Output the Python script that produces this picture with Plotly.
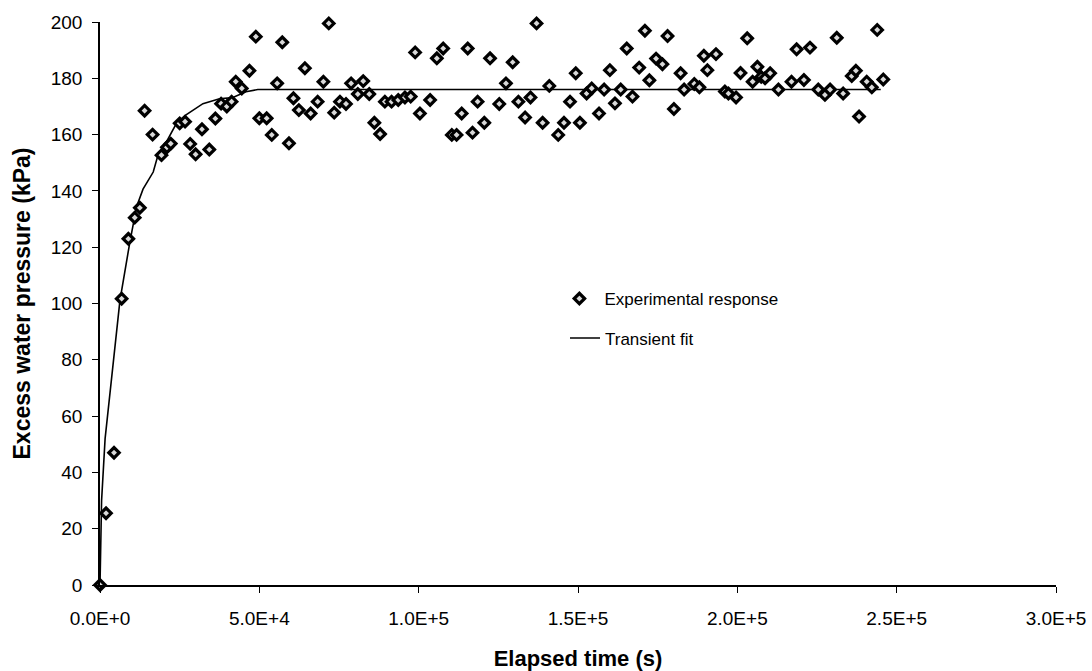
import plotly.graph_objects as go

# Experimental response (time in s, excess water pressure in kPa)
exp_t = [0, 1.9e3, 4.4e3, 6.8e3, 8.9e3, 10.9e3, 12.5e3, 14.0e3, 16.5e3, 19.3e3,
         21.0e3, 22.2e3, 25.0e3, 26.7e3, 28.3e3, 30.0e3, 32.0e3, 34.3e3, 36.2e3, 38.0e3,
         39.8e3, 41.3e3, 42.6e3, 44.5e3, 46.9e3, 48.9e3, 50.0e3, 52.3e3, 53.9e3, 55.6e3,
         57.2e3, 59.3e3, 60.7e3, 62.4e3, 64.3e3, 66.1e3, 68.3e3, 70.1e3, 71.8e3, 73.5e3,
         75.3e3, 77.2e3, 78.8e3, 80.9e3, 82.6e3, 84.5e3, 86.1e3, 87.9e3, 89.4e3, 91.5e3,
         93.6e3, 95.7e3, 97.5e3, 98.9e3, 100.4e3, 103.6e3, 105.7e3, 107.7e3, 110.4e3, 111.9e3,
         113.5e3, 115.4e3, 116.9e3, 118.5e3, 120.6e3, 122.4e3, 125.3e3, 127.4e3, 129.5e3, 131.3e3,
         133.4e3, 135.1e3, 137.0e3, 138.9e3, 141.0e3, 143.8e3, 145.6e3, 147.5e3, 149.3e3, 150.6e3,
         152.7e3, 154.3e3, 156.6e3, 158.2e3, 160.0e3, 161.6e3, 163.4e3, 165.3e3, 167.1e3, 169.2e3,
         171.0e3, 172.4e3, 174.5e3, 176.5e3, 178.1e3, 180.1e3, 182.2e3, 183.3e3, 186.5e3, 188.1e3,
         189.5e3, 190.6e3, 193.3e3, 196.1e3, 197.2e3, 199.6e3, 201.0e3, 203.1e3, 204.8e3, 206.3e3,
         207.5e3, 208.7e3, 210.3e3, 212.9e3, 217.0e3, 218.6e3, 220.9e3, 222.8e3, 225.4e3, 227.5e3,
         229.1e3, 231.2e3, 233.2e3, 235.9e3, 237.2e3, 238.2e3, 240.6e3, 242.2e3, 243.9e3, 245.8e3]
exp_p = [0, 25.5, 47, 101.7, 123, 130.5, 134, 168.5, 160, 152.7,
         155.5, 156.8, 164, 164.6, 156.7, 153, 161.9, 154.7, 165.7, 171,
         170, 171.7, 178.8, 176.4, 182.7, 194.8, 165.8, 165.8, 159.9, 178.2,
         192.8, 156.9, 172.9, 168.7, 183.6, 167.5, 171.7, 178.8, 199.5, 167.8,
         171.7, 170.9, 178.2, 174.4, 179, 174.4, 164.2, 160.2, 171.7, 171.7,
         172.3, 173.2, 173.5, 189.2, 167.5, 172.3, 187.1, 190.6, 159.9, 159.9,
         167.5, 190.6, 160.7, 171.7, 164.2, 187.1, 170.9, 178.2, 185.7, 171.7,
         166.1, 173.2, 199.5, 164.2, 177.3, 159.9, 164.2, 171.7, 181.8, 164.2,
         174.6, 176.4, 167.5, 176, 182.9, 171.1, 176, 190.6, 173.5, 183.8,
         196.9, 179.3, 187, 185, 195, 169.1, 181.8, 176, 178, 176.8,
         188, 182.9, 188.6, 175.3, 174.6, 173.2, 181.9, 194.2, 178.8, 184.1,
         180.5, 180, 181.8, 176, 178.8, 190.3, 179.4, 190.9, 176, 174.1,
         176, 194.4, 174.6, 180.8, 182.7, 166.4, 178.8, 176.8, 197.2, 179.6]

# Transient fit curve
fit_t = [0, 200, 500, 1.6e3, 6.25e3, 9.4e3, 11.5e3, 13.5e3, 16.7e3, 18.2e3,
         20.8e3, 24.0e3, 27.0e3, 32.3e3, 37.5e3, 41.7e3, 45.8e3, 49.5e3, 100e3, 150e3,
         200e3, 245e3]
fit_p = [0, 15, 30, 52, 101, 122, 134.5, 140.6, 146.7, 152.7,
         157.3, 164, 167, 171, 172.7, 173.2, 175.2, 176, 176, 176,
         176, 176]

x_tickvals = [0, 5e4, 1e5, 1.5e5, 2e5, 2.5e5, 3e5]
x_ticktext = ["0.0E+0", "5.0E+4", "1.0E+5", "1.5E+5", "2.0E+5", "2.5E+5", "3.0E+5"]
y_tickvals = [0, 20, 40, 60, 80, 100, 120, 140, 160, 180, 200]

FONT = "Arial, Liberation Sans, sans-serif"

fig = go.Figure()
fig.add_trace(go.Scatter(
    x=fit_t, y=fit_p, mode="lines", name="Transient fit",
    line=dict(color="black", width=1.6), legend="legend2"))
fig.add_trace(go.Scatter(
    x=exp_t, y=exp_p, mode="markers", name="Experimental response",
    marker=dict(symbol="diamond", size=8, color="#d8d8d8",
                line=dict(color="black", width=3.2)),
    cliponaxis=False, legend="legend"))

fig.update_layout(
    width=1092, height=671,
    margin=dict(l=100, r=36, t=22, b=86),
    paper_bgcolor="white", plot_bgcolor="white",
    font=dict(family=FONT, size=17, color="black"),
    showlegend=True,
    legend=dict(x=0.4753, y=0.540, xanchor="left", yanchor="top", itemwidth=40,
                bgcolor="rgba(0,0,0,0)", font=dict(size=17)),
    legend2=dict(x=0.4864, y=0.470, xanchor="left", yanchor="top",
                 bgcolor="rgba(0,0,0,0)", font=dict(size=17)),
    xaxis=dict(range=[0, 3e5], tickvals=x_tickvals, ticktext=x_ticktext,
               showgrid=False, zeroline=False, showline=True, linecolor="black",
               linewidth=1.5, ticks="outside", ticklen=6, tickcolor="black",
               tickfont=dict(size=19), ticklabelstandoff=9, automargin=False,
               title=dict(text="<b>Elapsed time (s)</b>", font=dict(size=22), standoff=24)),
    yaxis=dict(range=[0, 200], tickvals=y_tickvals,
               showgrid=False, zeroline=False, showline=True, linecolor="black",
               linewidth=1.5, ticks="outside", ticklen=6, tickcolor="black",
               tickfont=dict(size=19), ticklabelstandoff=6, automargin=False,
               title=dict(text="<b>Excess water pressure (kPa)</b>", font=dict(size=23), standoff=14)),
)

fig.write_html("out.html")
